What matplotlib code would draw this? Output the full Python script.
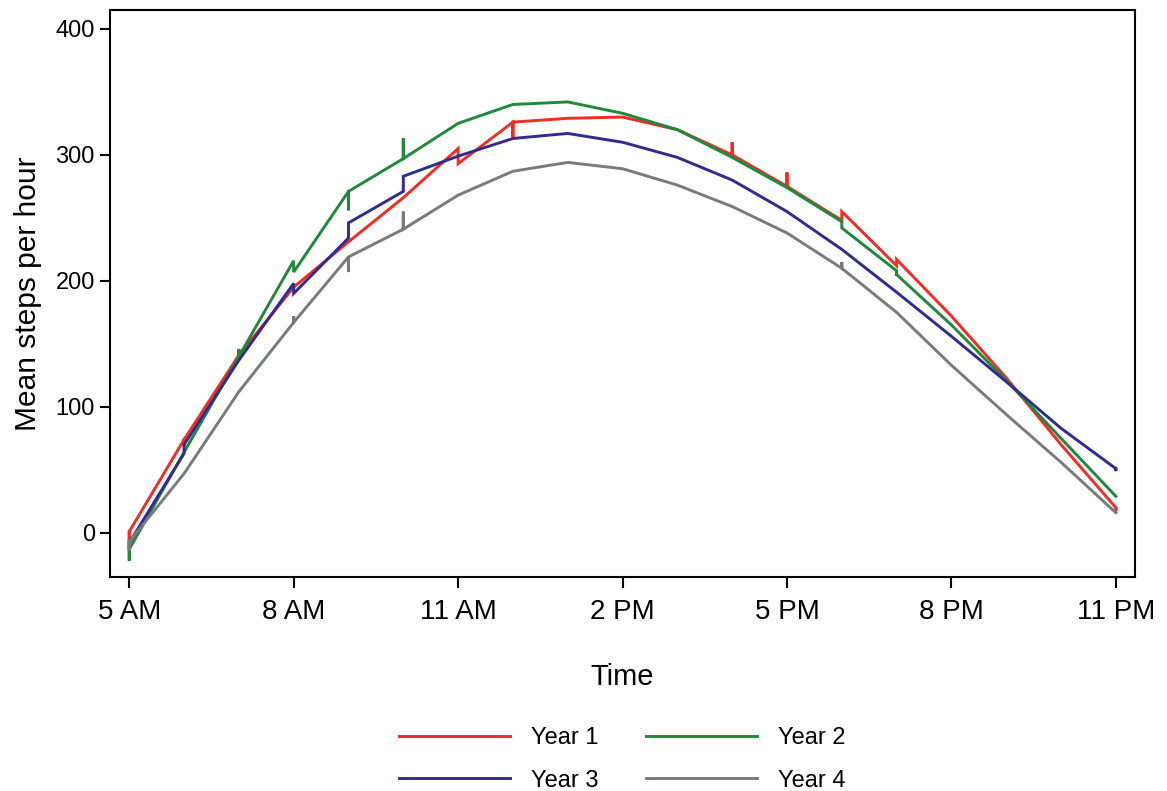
import matplotlib
matplotlib.use("Agg")
import matplotlib.pyplot as plt
import numpy as np

plt.rcParams["font.family"] = ["Liberation Sans", "DejaVu Sans"]

# Hour of day (5 AM .. 11 PM)
hours = np.arange(5, 24)

# Each series: value where the line arrives at the hour, the end of the
# small vertical mark drawn there, and the value where it leaves again.
year1_arrive = [1, 74, 141, 195, 231, 266, 305, 326, 329, 330, 320, 300, 275, 248, 212, 172, 123, 70, 20]
year1_tick = [-7, 69, 141, 195, 231, 266, 305, 314, 329, 330, 320, 310, 286, 255, 217, 172, 123, 70, 17]
year1_leave = [1, 74, 141, 195, 231, 266, 293, 326, 329, 330, 320, 300, 275, 255, 217, 172, 123, 70, 20]

year2_arrive = [-13, 64, 140, 216, 271, 297, 325, 340, 342, 333, 320, 298, 274, 247, 208, 165, 121, 75, 29]
year2_tick = [-22, 64, 146, 216, 256, 313, 325, 340, 342, 333, 320, 298, 274, 242, 204, 165, 121, 75, 29]
year2_leave = [-13, 64, 140, 207, 271, 297, 325, 340, 342, 333, 320, 298, 274, 242, 205, 165, 121, 75, 29]

year3_arrive = [-8, 63, 137, 198, 234, 271, 299, 313, 317, 310, 298, 280, 255, 225, 191, 156, 120, 83, 51]
year3_tick = [-13, 70, 137, 198, 234, 271, 299, 313, 317, 310, 298, 280, 255, 225, 191, 156, 120, 83, 49]
year3_leave = [-8, 70, 137, 190, 246, 283, 299, 313, 317, 310, 298, 280, 255, 225, 191, 156, 120, 83, 51]

year4_arrive = [-7, 47, 112, 167, 219, 241, 268, 287, 294, 289, 276, 259, 238, 210, 175, 133, 94, 56, 16]
year4_tick = [-14, 47, 112, 172, 207, 255, 268, 287, 294, 289, 276, 259, 238, 215, 175, 133, 94, 56, 16]
year4_leave = [-7, 47, 112, 167, 219, 241, 268, 287, 294, 289, 276, 259, 238, 210, 175, 133, 94, 56, 16]

labels = ["Year 1", "Year 2", "Year 3", "Year 4"]
colors = ["#ee2e24", "#21873a", "#322b8f", "#787b7d"]

tick_hours = [5, 8, 11, 14, 17, 20, 23]
tick_labels = ["5 AM", "8 AM", "11 AM", "2 PM", "5 PM", "8 PM", "11 PM"]

series = [
    (year1_arrive, year1_tick, year1_leave),
    (year2_arrive, year2_tick, year2_leave),
    (year3_arrive, year3_tick, year3_leave),
    (year4_arrive, year4_tick, year4_leave),
]

fig = plt.figure(figsize=(11.67, 7.91), dpi=100)
ax = fig.add_axes([0.0943, 0.2706, 0.8783, 0.7168])

lines = []
for (arrive, tick, leave), label, color in zip(series, labels, colors):
    xs = np.repeat(hours, 3)
    ys = np.column_stack([arrive, tick, leave]).ravel()
    ln, = ax.plot(xs, ys, color=color, lw=2.1, label=label,
                  solid_joinstyle="miter")
    lines.append(ln)

ax.set_xlim(4.65, 23.35)
ax.set_ylim(-35, 415)
ax.set_xticks(tick_hours)
ax.set_xticklabels(tick_labels)
ax.set_yticks([0, 100, 200, 300, 400])

ax.tick_params(axis="x", labelsize=20, length=8, width=1.5, pad=8)
ax.tick_params(axis="y", labelsize=17, length=7, width=1.5, pad=4)
for spine in ax.spines.values():
    spine.set_linewidth(1.5)

ax.set_xlabel("Time", fontsize=21, labelpad=27)
ax.set_ylabel("Mean steps per hour", fontsize=21.5, labelpad=10)

# legend fills column-wise, so order gives rows (Year 1, Year 2), (Year 3, Year 4)
order = [0, 2, 1, 3]
ax.legend([lines[i] for i in order], [labels[i] for i in order],
          loc="upper center", bbox_to_anchor=(0.5, -0.228), ncol=2,
          frameon=False, fontsize=17, handlelength=4.7, handletextpad=0.9,
          columnspacing=2.0, labelspacing=0.85)

fig.savefig("out.png", dpi=100)
